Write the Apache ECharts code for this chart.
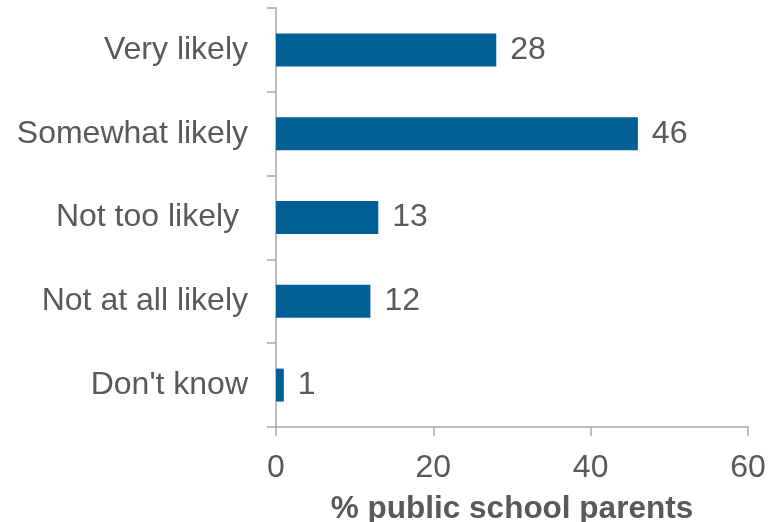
<!DOCTYPE html>
<html><head><meta charset="utf-8">
<script src="https://cdn.jsdelivr.net/npm/echarts@6/dist/echarts.min.js"></script>
<style>html,body{margin:0;padding:0;background:#fff}#c{width:778px;height:522px}</style>
</head><body><div id="c"></div>
<script>
const categories = ["Very likely", "Somewhat likely", "Not too likely ", "Not at all likely", "Don't know"];
const values = [28, 46, 13, 12, 1];
const xTicks = [0, 20, 40, 60];
const xTitle = "% public school parents";

const chart = echarts.init(document.getElementById('c'));
chart.setOption({
  animation: false,
  grid: { left: 276, right: 30, top: 8, bottom: 95, containLabel: false, outerBoundsMode: 'none' },
  xAxis: {
    type: 'value', min: xTicks[0], max: xTicks[xTicks.length - 1], interval: 20,
    name: xTitle, nameLocation: 'middle', nameGap: 66,
    nameTextStyle: { fontFamily: 'Liberation Sans', fontSize: 31.5, fontWeight: 'bold', color: '#595959' },
    axisLine: { show: true, lineStyle: { color: '#A6A6A6', width: 1.5 } },
    axisTick: { show: true, length: 9, lineStyle: { color: '#A6A6A6', width: 1.5 } },
    axisLabel: { fontFamily: 'Liberation Sans', fontSize: 32, color: '#595959', margin: 25 },
    splitLine: { show: false }
  },
  yAxis: {
    type: 'category', data: categories, inverse: true,
    axisLine: { show: true, lineStyle: { color: '#A6A6A6', width: 1.5 } },
    axisTick: { show: true, length: 9, lineStyle: { color: '#A6A6A6', width: 1.5 } },
    axisLabel: { fontFamily: 'Liberation Sans', fontSize: 32, color: '#595959', margin: 28, padding: [5, 0, 0, 0] }
  },
  series: [{
    type: 'bar', data: values, barWidth: 33,
    itemStyle: { color: '#006096' },
    label: { show: true, position: 'right', distance: 14, fontFamily: 'Liberation Sans', fontSize: 32, color: '#595959', padding: [5, 0, 0, 0] }
  }]
});
</script></body></html>
